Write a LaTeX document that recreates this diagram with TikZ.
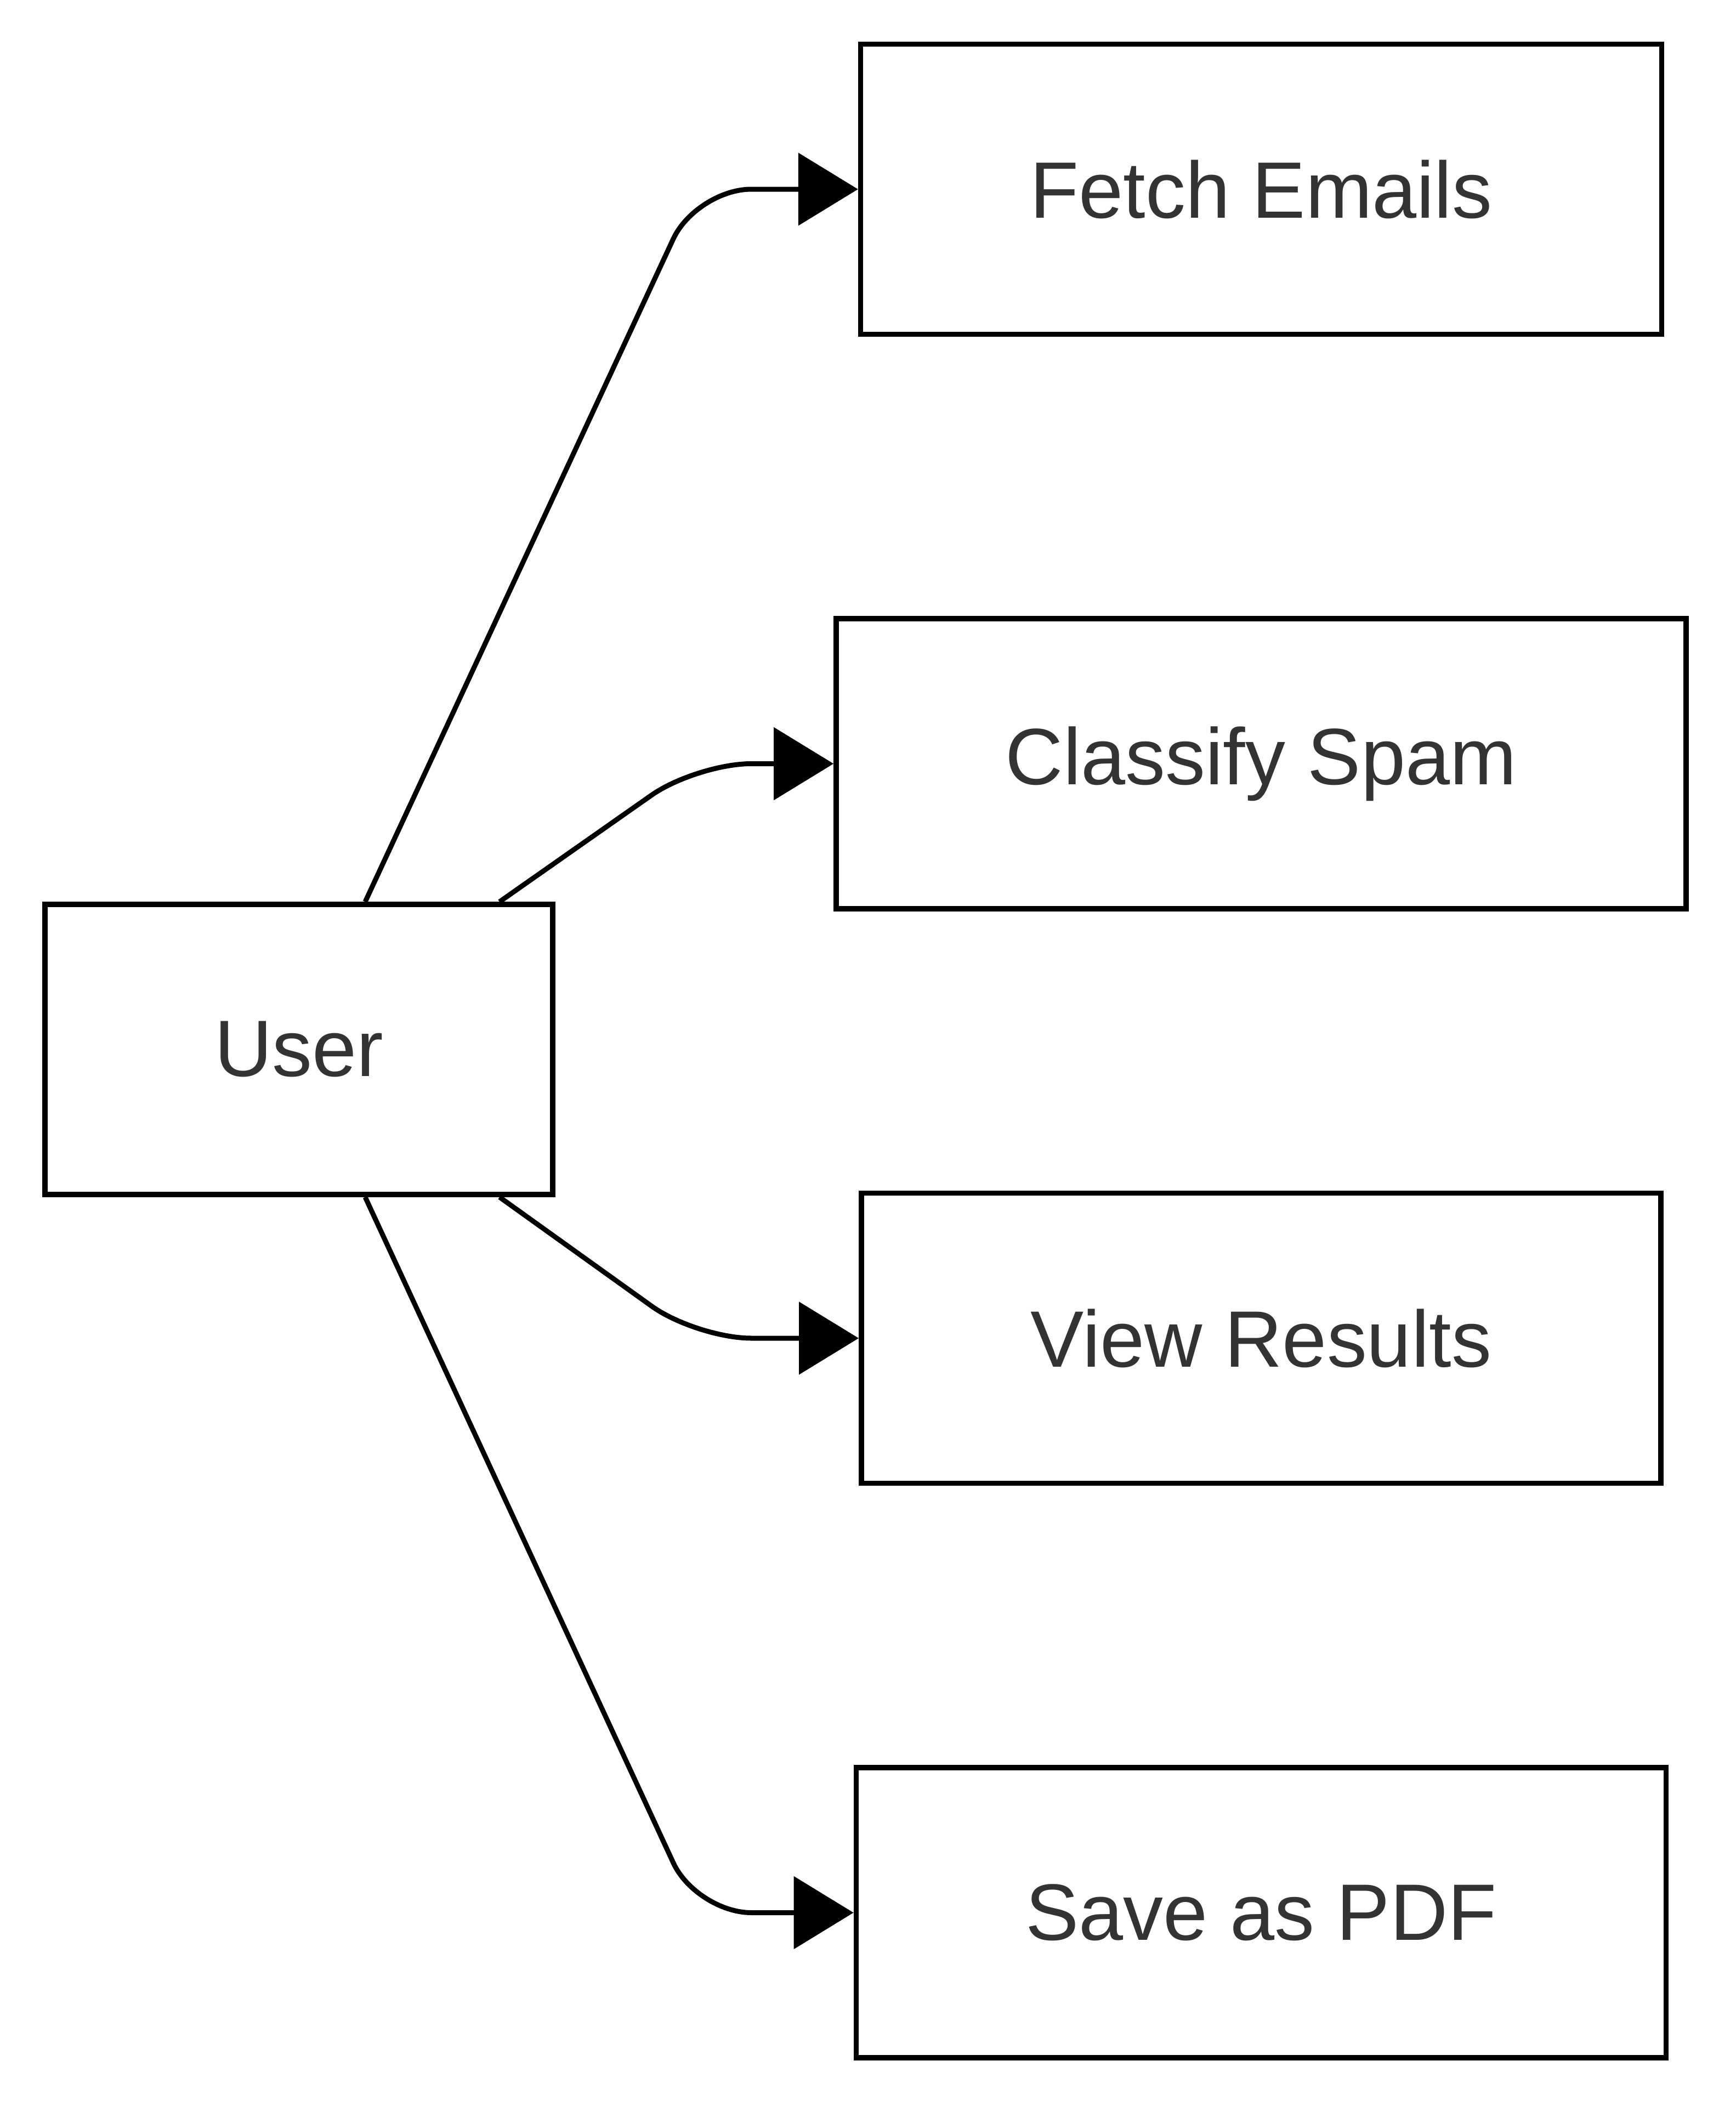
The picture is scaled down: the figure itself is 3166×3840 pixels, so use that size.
\documentclass[tikz,border=0pt]{standalone}
\usepackage{fontspec}
\setmainfont{Liberation Sans}
\usetikzlibrary{arrows.meta,positioning}
\definecolor{cText}{HTML}{333333}
\definecolor{cLine}{HTML}{000000}
\tikzset{
  font=\fontsize{41.5}{50}\selectfont,
  box/.style={draw=cLine, line width=0.95mm, fill=white, text=cText, inner xsep=30.9mm, inner ysep=0pt, minimum height=52.9mm, align=center},
  flow/.style={-{Triangle[length=10.9mm, width=13.1mm]}, line width=0.9mm, draw=cLine, rounded corners=10mm},
}
\begin{document}
\begin{tikzpicture}[x=0.1mm, y=-0.1mm, node distance=50.9mm]
\useasboundingbox (0,0) rectangle (3166,3840);
\node[box] (user) at (545,1913.5) {User};
\node[box] (fetch) at (2300,345) {Fetch Emails};
\node[box, below=of fetch] (classify) {Classify Spam};
\node[box, below=of classify] (view) {View Results};
\node[box, below=of view] (save) {Save as PDF};
\coordinate (bend) at (1270,1913.5);
% edges
\draw[flow] ([xshift=12.1mm]user.north) -- (fetch.west -| bend) -- (fetch.west);
\draw[flow] ([xshift=36.6mm]user.north) -- (classify.west -| bend) -- (classify.west);
\draw[flow] ([xshift=36.6mm]user.south) -- (view.west -| bend) -- (view.west);
\draw[flow] ([xshift=12.1mm]user.south) -- (save.west -| bend) -- (save.west);
\end{tikzpicture}
\end{document}
